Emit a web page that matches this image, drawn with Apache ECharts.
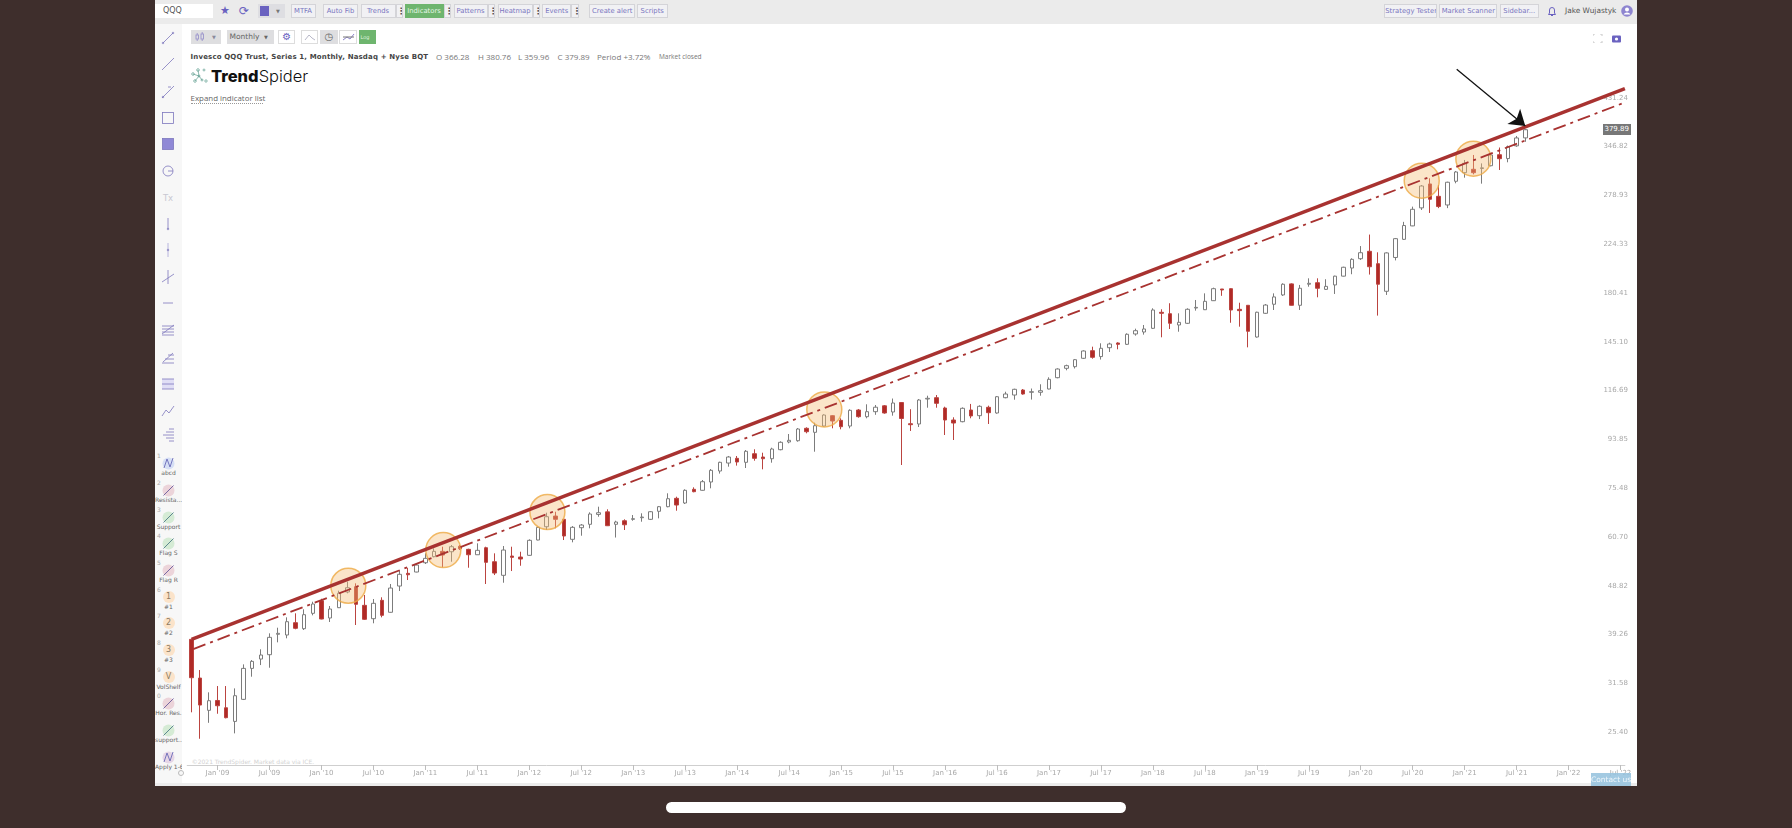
<!DOCTYPE html>
<html>
<head>
<meta charset="utf-8">
<title>QQQ monthly</title>
<script src="https://cdn.jsdelivr.net/npm/echarts@6/dist/echarts.min.js"></script>
<style>
  html, body { margin: 0; padding: 0; background: #3e2e2c; width: 1792px; height: 828px; overflow: hidden; }
  .a { position: absolute; box-sizing: border-box; white-space: nowrap; }
  .btn { border: 1px solid #d4d4d8; background: #f1f1f4; color: #7a76c0; font: 6.8px/12px "DejaVu Sans", sans-serif; text-align: center; overflow: hidden; }
  .dots { color: #555; font: bold 9px/12px "DejaVu Sans", sans-serif; }
  #chart { position: absolute; left: 0; top: 0; width: 1792px; height: 828px; filter: blur(0.35px); }
  #chrome { filter: blur(0.3px); }
</style>
</head>
<body>
<div id="chrome"></div>
<div id="chart"></div>
<div id="over"></div>
<script>
// monthly candles, Oct '08 -> Aug '21
const opens = [
  39.06, 32.86, 28.45, 29.73, 28.78, 27.08, 29.88, 34.31, 35.77, 36.47,
  39.95, 39.82, 42.07, 40.96, 43.87, 46.40, 42.96, 44.98, 48.25, 49.40,
  45.46, 42.83, 46.49, 44.07, 49.55, 52.44, 52.75, 54.98, 56.48, 57.85,
  57.75, 59.16, 58.37, 56.98, 58.79, 55.23, 51.98, 56.65, 56.40, 56.83,
  60.85, 64.57, 67.72, 66.74, 61.04, 64.29, 65.27, 68.22, 69.00, 65.27,
  66.32, 66.74, 67.22, 66.74, 69.17, 70.61, 73.30, 71.78, 76.31, 75.97,
  78.84, 82.80, 85.81, 87.63, 86.08, 89.45, 88.14, 87.47, 91.07, 94.25,
  94.79, 100.19, 98.41, 101.22, 106.00, 103.83, 101.22, 108.72, 105.52, 107.90,
  110.77, 107.76, 112.40, 102.27, 102.14, 114.19, 114.86, 109.69, 103.97, 103.19,
  108.72, 106.00, 110.04, 107.28, 114.86, 116.24, 118.87, 117.67, 117.67, 119.40,
  125.59, 130.96, 131.92, 136.95, 141.67, 138.00, 143.58, 146.63, 145.76, 152.65,
  154.00, 156.55, 168.16, 167.10, 158.90, 160.10, 171.40, 170.10, 177.10, 186.60,
  186.84, 170.40, 173.50, 150.60, 167.40, 174.30, 181.70, 190.90, 173.50, 190.60,
  191.90, 186.30, 190.00, 197.60, 204.90, 213.60, 220.80, 208.90, 184.70, 214.80,
  232.90, 247.30, 268.00, 298.20, 282.20, 271.50, 301.80, 313.60, 318.40, 319.50,
  323.50, 339.80, 334.00, 353.50, 366.28
];
const closes = [
  32.91, 29.13, 29.70, 29.04, 27.53, 30.37, 34.31, 35.40, 36.42, 39.41,
  40.12, 42.26, 41.03, 43.60, 45.73, 42.77, 44.72, 47.97, 49.18, 45.67,
  42.71, 45.87, 43.48, 49.11, 52.21, 52.11, 54.42, 56.07, 57.85, 56.91,
  59.06, 58.53, 56.98, 58.11, 55.08, 52.51, 58.19, 56.32, 55.90, 60.77,
  64.40, 67.52, 66.74, 61.95, 64.40, 65.06, 68.34, 68.74, 64.86, 65.94,
  65.14, 66.92, 67.43, 69.04, 70.61, 73.17, 71.14, 75.97, 75.50, 78.94,
  83.06, 86.08, 88.14, 86.20, 90.42, 87.63, 87.47, 91.35, 94.12, 94.96,
  99.88, 98.68, 101.36, 106.32, 103.51, 100.91, 108.57, 105.52, 107.90, 110.08,
  107.28, 112.17, 104.68, 101.82, 113.68, 114.55, 112.01, 103.97, 102.58, 109.55,
  105.87, 110.53, 107.42, 115.36, 116.77, 119.24, 116.77, 117.96, 118.50, 124.69,
  130.55, 132.51, 136.09, 141.48, 137.55, 143.20, 145.97, 145.76, 152.45, 154.90,
  156.08, 169.90, 167.40, 160.10, 160.80, 170.43, 171.90, 176.60, 186.84, 185.76,
  169.90, 169.40, 154.50, 168.20, 173.70, 180.10, 190.60, 173.50, 187.20, 191.40,
  187.20, 188.80, 197.60, 205.60, 213.00, 219.40, 206.10, 190.60, 219.20, 233.60,
  247.70, 266.30, 295.50, 278.50, 269.60, 300.50, 314.60, 327.00, 313.60, 320.50,
  339.40, 333.80, 352.30, 366.20, 379.89
];
const lows = [
  28.20, 25.06, 26.91, 28.02, 27.45, 25.67, 29.79, 33.06, 34.82, 34.41,
  38.54, 39.24, 40.85, 40.72, 43.48, 42.71, 42.20, 44.92, 47.97, 41.64,
  42.58, 41.96, 43.09, 43.99, 48.46, 50.90, 52.68, 54.67, 56.32, 53.87,
  55.23, 58.19, 53.77, 56.98, 50.00, 52.04, 50.29, 52.98, 54.25, 56.73,
  60.77, 63.63, 64.11, 60.85, 60.23, 62.03, 64.11, 67.52, 64.77, 61.53,
  63.63, 66.32, 66.03, 66.53, 67.03, 70.42, 69.35, 71.46, 75.30, 75.84,
  76.65, 81.85, 84.42, 84.82, 83.92, 86.70, 83.43, 85.93, 90.82, 93.71,
  94.38, 97.98, 90.25, 100.91, 100.19, 99.74, 100.19, 105.05, 104.77, 106.41,
  106.95, 106.00, 85.05, 99.00, 100.77, 109.84, 109.84, 97.24, 95.09, 102.92,
  104.77, 104.40, 102.14, 106.95, 114.55, 113.83, 116.43, 113.90, 115.88, 119.24,
  125.25, 129.80, 130.85, 136.52, 136.70, 136.20, 140.85, 142.55, 145.36, 151.50,
  152.20, 156.08, 150.40, 156.08, 154.20, 159.60, 169.40, 169.90, 176.90, 181.00,
  160.50, 157.70, 143.80, 150.20, 167.00, 169.90, 180.90, 173.30, 169.90, 188.50,
  179.80, 185.80, 182.50, 197.30, 199.30, 212.40, 199.00, 165.70, 181.70, 212.00,
  232.20, 247.00, 265.50, 262.00, 267.70, 267.70, 299.10, 306.70, 311.30, 298.60,
  322.60, 317.40, 328.50, 352.00, 359.96
];
const highs = [
  39.06, 34.06, 30.83, 31.71, 31.71, 31.38, 34.93, 35.61, 37.36, 40.12,
  41.14, 43.09, 43.87, 44.66, 46.20, 46.82, 45.32, 48.53, 50.52, 50.15,
  47.61, 46.76, 47.12, 50.00, 53.05, 53.70, 54.84, 57.34, 58.63, 59.06,
  59.51, 59.51, 58.53, 59.96, 59.06, 57.34, 59.24, 59.06, 57.75, 61.04,
  64.57, 68.74, 69.04, 66.83, 64.77, 65.35, 68.86, 70.61, 69.79, 66.32,
  66.74, 68.03, 68.55, 69.26, 70.83, 74.96, 73.83, 76.31, 76.99, 79.54,
  83.54, 86.31, 88.54, 88.54, 90.94, 91.23, 89.85, 91.88, 94.54, 97.67,
  100.32, 100.64, 102.73, 106.65, 106.32, 104.77, 109.06, 109.21, 111.52, 111.17,
  111.17, 114.44, 112.62, 109.11, 114.19, 115.88, 116.24, 110.34, 105.24, 110.00,
  111.71, 111.02, 110.85, 115.72, 117.96, 119.56, 119.40, 119.66, 121.94, 125.81,
  130.96, 133.11, 136.52, 141.92, 144.23, 146.43, 146.82, 147.09, 153.11, 156.30,
  158.90, 171.20, 170.43, 175.10, 167.40, 171.20, 177.65, 183.00, 187.70, 186.60,
  187.20, 175.50, 173.70, 168.60, 174.50, 183.00, 191.40, 191.40, 190.00, 195.70,
  195.70, 194.90, 198.00, 206.10, 214.00, 226.00, 237.90, 219.80, 219.80, 234.30,
  251.80, 269.50, 296.80, 305.80, 296.80, 301.20, 316.00, 331.90, 339.40, 326.90,
  341.90, 350.90, 354.00, 369.40, 380.76
];

const priceTicks = [25.40, 31.58, 39.26, 48.82, 60.70, 75.48, 93.85, 116.69, 145.10, 180.41, 224.33, 278.93, 346.82, 431.24];

// trend lines and markers, x is the month number from Oct '08
const trendSolid = [[0, 39.06], [165.5, 456.2]];
const trendDash = [[0.2, 37.4], [165.25, 427.5]];
const touchCircles = [[18.1, 49.62], [29.07, 58.19], [41.09, 68.95], [73.06, 109.0], [142.04, 302.6], [148, 333.8]];
const arrowFrom = [146.08, 497.6];
const arrowTo = [154, 386.3];

const monthNames = ['Jan', 'Feb', 'Mar', 'Apr', 'May', 'Jun', 'Jul', 'Aug', 'Sep', 'Oct', 'Nov', 'Dec'];
const months = [];
for (let i = 0; i < 166; i++) {
  const m = (i + 9) % 12;
  const yr = 8 + Math.floor((i + 9) / 12);
  months.push(monthNames[m] + " '" + String(yr).padStart(2, '0'));
}

const isHalfYear = (i, name) => /^(Jan|Jul)/.test(name);

const chart = echarts.init(document.getElementById('chart'), null, { renderer: 'canvas' });
chart.setOption({
  animation: false,
  backgroundColor: 'transparent',
  grid: { left: 187.2, right: 167.1, top: 24, bottom: 63 },
  xAxis: [
    {
      type: 'category',
      data: months,
      axisLine: { lineStyle: { color: '#cfcfcf', width: 1 } },
      axisTick: { show: true, length: 5, interval: isHalfYear, alignWithLabel: true, lineStyle: { color: '#bdbdbd' } },
      axisLabel: { interval: isHalfYear, margin: 5, color: '#a8a8a8', fontFamily: 'DejaVu Sans', fontSize: 7 },
      splitLine: { show: false }
    },
    { type: 'value', show: false, min: -0.5, max: 165.5, splitLine: { show: false } }
  ],
  yAxis: {
    type: 'log',
    logBase: 10,
    min: 22.29,
    max: 609,
    position: 'right',
    axisLine: { show: false },
    axisTick: { show: false },
    splitLine: { show: false },
    axisLabel: {
      inside: true,
      margin: -3,
      verticalAlign: 'bottom',
      customValues: priceTicks,
      formatter: v => Number(v).toFixed(2),
      color: '#a8a8a8',
      fontFamily: 'DejaVu Sans',
      fontSize: 7
    }
  },
  series: [
    {
      name: 'QQQ',
      type: 'candlestick',
      barWidth: 4,
      data: opens.map((o, i) => [o, closes[i], lows[i], highs[i]]),
      itemStyle: { color: '#ffffff', color0: '#b02a26', borderColor: '#7c7c7c', borderColor0: '#bb4440', borderWidth: 1 }
    },
    {
      name: 'trend',
      type: 'line',
      xAxisIndex: 1,
      data: trendSolid,
      symbol: 'none',
      lineStyle: { color: '#a83230', width: 3.5 }
    },
    {
      name: 'trend2',
      type: 'line',
      xAxisIndex: 1,
      data: trendDash,
      symbol: 'none',
      lineStyle: { color: '#a83230', width: 1.8, type: [13, 5, 3, 5] }
    },
    {
      name: 'touches',
      type: 'scatter',
      xAxisIndex: 1,
      data: touchCircles,
      symbol: 'circle',
      symbolSize: 35,
      itemStyle: { color: 'rgba(246,190,120,0.5)', borderColor: '#eeaa45', borderWidth: 1.5 }
    },
    {
      name: 'arrow',
      type: 'line',
      xAxisIndex: 1,
      data: [],
      markLine: {
        silent: true,
        symbol: ['none', 'arrow'],
        symbolSize: 15,
        label: { show: false },
        lineStyle: { color: '#111', width: 1.3, type: 'solid' },
        data: [[{ coord: arrowFrom }, { coord: arrowTo }]]
      }
    }
  ]
});

// --- page furniture around the chart ---
function box(parent, x, y, w, h, css, text) {
  const d = document.createElement('div');
  d.className = 'a';
  d.style.cssText = `left:${x}px;top:${y}px;width:${w}px;height:${h}px;` + (css || '');
  if (text !== undefined) d.innerHTML = text;
  parent.appendChild(d);
  return d;
}
function btn(x, w, label, css) {
  const d = box(chrome, x, 4, w, 14, css || '', label);
  d.classList.add('btn');
  return d;
}
function dots(x, w) {
  btn(x, w, '⋮').classList.add('dots');
}
const chrome = document.getElementById('chrome');
const over = document.getElementById('over');
const PURPLE = '#6a62c0';

box(chrome, 155, 0, 1482, 786, 'background:#fff;');
box(chrome, 155, 0, 1482, 24, 'background:#ebebeb;');
box(chrome, 155, 24, 27, 762, 'background:#f7f7f7;');
box(chrome, 155, 783, 1482, 3, 'background:#ececec;');
box(chrome, 666, 802, 460, 11, 'background:#fff;border-radius:6px;');

// top bar
box(chrome, 155, 4, 58, 14, 'background:#fff;color:#555;font:8px/14px "DejaVu Sans";padding-left:8px;', 'QQQ');
box(chrome, 219, 5, 12, 12, `color:${PURPLE};font:11px/12px "DejaVu Sans";text-align:center;`, '★');
box(chrome, 238, 5, 12, 12, `color:${PURPLE};font:12px/12px "DejaVu Sans";text-align:center;`, '⟳');
box(chrome, 258, 4, 27, 14, 'background:#dedee2;');
box(chrome, 260, 6, 9, 9.5, `background:${PURPLE};`);
box(chrome, 273, 6, 10, 10, 'color:#777;font:5px/10px "DejaVu Sans";text-align:center;', '▼');
btn(290.5, 25, 'MTFA');
btn(323, 35, 'Auto Fib');
btn(360.5, 35, 'Trends');
dots(395.5, 7);
btn(404.5, 39, 'Indicators', 'background:#6eb56e;color:#e6f5e6;border-color:#6eb56e;');
dots(443.5, 7);
btn(453.5, 34, 'Patterns');
dots(487.5, 7.5);
btn(497.5, 35, 'Heatmap');
dots(532.5, 7.5);
btn(542.3, 29, 'Events');
dots(571.3, 7.5);
btn(589.3, 46, 'Create alert');
btn(637, 30.5, 'Scripts');
btn(1384.3, 52.5, 'Strategy Tester');
btn(1439.3, 58, 'Market Scanner');
btn(1500, 38.5, 'Sidebar...');
box(chrome, 1565, 4, 54, 14, 'color:#555;font:7.4px/13px "DejaVu Sans";', 'Jake Wujastyk');
chrome.insertAdjacentHTML('beforeend',
  `<svg class="a" style="left:1547px;top:6px" width="10" height="11" fill="none" stroke="${PURPLE}" stroke-width="1">
     <path d="M1.5 8.5H8.5L7.5 7V4A2.5 2.5 0 0 0 2.5 4V7ZM4 9.5H6"/></svg>
   <svg class="a" style="left:1621px;top:5px" width="12" height="12">
     <circle cx="6" cy="6" r="5.8" fill="#8e85d0"/><circle cx="6" cy="4.6" r="2" fill="#fff"/><path d="M2.6 9.4A3.6 3 0 0 1 9.4 9.4Z" fill="#fff"/></svg>`);

// chart header
box(chrome, 190.6, 30, 30, 14, 'background:#dedee0;');
box(chrome, 212, 30, 8, 14, 'color:#8a8a9c;font:5px/14px "DejaVu Sans";', '▼');
chrome.insertAdjacentHTML('beforeend',
  `<svg class="a" style="left:194px;top:32px" width="12" height="10" fill="none" stroke="#9a94cc" stroke-width=".9">
     <rect x="2" y="3" width="2.5" height="4"/><rect x="7" y="2" width="2.5" height="5"/><path d="M3.2 1V3M3.2 7V9M8.2 0V2M8.2 7V9"/></svg>`);
box(chrome, 226.5, 30, 47, 14, 'background:#dedee0;color:#666;font:7.5px/14px "DejaVu Sans";padding-left:3px;', 'Monthly <span style="font-size:5px;margin-left:2px">▼</span>');
box(chrome, 278, 30, 17.4, 14, `border:1px solid #ddd;color:${PURPLE};font:10px/12px "DejaVu Sans";text-align:center;`, '⚙');
box(chrome, 301, 30, 17.4, 14, 'border:1px solid #ddd;');
box(chrome, 320, 30, 17.5, 14, 'background:#dedee0;color:#666;font:10px/14px "DejaVu Sans";text-align:center;', '◷');
box(chrome, 339.4, 30, 17.4, 14, 'border:1px solid #ddd;');
box(chrome, 358.6, 30, 17.2, 14, 'background:#6eb56e;color:#dff2df;font:5px/14px "DejaVu Sans";text-align:left;padding-left:2px;', 'Log');
chrome.insertAdjacentHTML('beforeend',
  `<svg class="a" style="left:301px;top:30px" width="56" height="14" fill="none" stroke="#8a82cc" stroke-width="1">
     <polyline points="4,10 8,5 11,8 14,10" stroke="#b8b8c8"/>
     <polyline points="42,10 46,7 49,9 53,4"/><line x1="42" y1="7" x2="53" y2="7" stroke="#777"/></svg>`);

box(chrome, 190.6, 52, 240, 10, 'color:#444;font:bold 7px/10px "DejaVu Sans";letter-spacing:.15px;', 'Invesco QQQ Trust, Series 1, Monthly, Nasdaq + Nyse BQT');
const headStyle = 'color:#777;font:8px/10px "Open Sans";';
box(chrome, 436, 52, 40, 10, headStyle, 'O 366.28');
box(chrome, 478, 52, 40, 10, headStyle, 'H 380.76');
box(chrome, 518, 52, 40, 10, headStyle, 'L 359.96');
box(chrome, 557.6, 52, 40, 10, headStyle, 'C 379.89');
box(chrome, 597, 52, 60, 10, headStyle, 'Period +3.72%');
box(chrome, 659, 52, 44, 10, 'color:#777;font:6.5px/10px "Open Sans";', 'Market closed');
chrome.insertAdjacentHTML('beforeend',
  `<svg class="a" style="left:190px;top:68px" width="18" height="16" fill="none" stroke="#5f9e8f" stroke-width=".7">
     <circle cx="3" cy="6" r="1.3"/><circle cx="8" cy="2" r="1.3"/><circle cx="14" cy="2" r="1"/><circle cx="9" cy="8" r="1"/>
     <circle cx="5" cy="13" r="1.3"/><circle cx="12" cy="12" r="1"/><circle cx="16" cy="13" r="1.2"/>
     <path d="M3 6L9 8L5 13M8 2L9 8L12 12"/></svg>`);
box(chrome, 211, 66, 100, 20, 'color:#111;font:300 16.5px/20px Inter;', '<b style="font-weight:800">Trend</b>Spider');
box(chrome, 190.6, 93, 72, 11, 'color:#666;font:7.9px/10px "Open Sans";border-bottom:1px dotted #999;', 'Expand indicator list');

// fullscreen + camera
chrome.insertAdjacentHTML('beforeend',
  `<svg class="a" style="left:1593px;top:34px" width="28" height="9" fill="none">
     <path d="M0 2V0H2M7 0H9V2M9 7V9H7M2 9H0V7" stroke="#c8c8c8"/>
     <rect x="19" y="1.5" width="9" height="7" rx="1" fill="${PURPLE}"/><circle cx="23.5" cy="5" r="1.6" fill="#fff"/></svg>`);

// left tool column
const toolIcons = [
  [38, '<path d="M3 13L13 3" /><circle cx="3" cy="13" r=".8"/><circle cx="13" cy="3" r=".8"/>'],
  [64, '<path d="M2 14L14 2"/>'],
  [92, '<path d="M2 14L14 2M8 3h3"/><circle cx="3" cy="13" r=".8"/>'],
  [118, '<rect x="2.5" y="2.5" width="11" height="11"/>'],
  [144, '<rect x="2.5" y="2.5" width="11" height="11" fill="#8f88d6"/>'],
  [171, '<circle cx="8" cy="8" r="5"/><path d="M8 8h5"/>'],
  [224, '<path d="M8 2V13"/><circle cx="8" cy="13" r=".8"/>'],
  [250, '<path d="M8 1V15" stroke="#a8a4d8"/><circle cx="8" cy="8" r=".8"/>'],
  [277, '<path d="M8 1V15M2 13L14 5"/>'],
  [303, '<path d="M3 8H13"/>'],
  [330, '<path d="M2 4H14M2 7H14M2 10H14M2 13H14M2 12L14 3"/>'],
  [357, '<path d="M2 14H14M5 10H14M8 6H14M3 13L13 4"/>'],
  [384, '<rect x="2" y="3" width="12" height="10" fill="#e0def5" stroke="none"/><path d="M2 3H14M2 8H14M2 13H14"/>'],
  [411, '<path d="M2 13L6 7L9 10L14 3"/>'],
  [435, '<path d="M3 8H14M6 5H14M6 11H14M9 2H14M9 14H14"/>']
];
let toolSvg = '';
toolIcons.forEach(t => {
  toolSvg += `<svg class="a" style="left:160px;top:${t[0] - 8}px" width="16" height="16" fill="none" stroke="#7d77bd" stroke-width=".8">${t[1]}</svg>`;
});
chrome.insertAdjacentHTML('beforeend', toolSvg);
box(chrome, 160, 192, 16, 12, 'color:#c8c8d2;font:8.5px/12px "DejaVu Sans";text-align:center;', 'Tx');

const presets = [
  [463, '1', 'abcd', '#d6dff5', 'N', '#6a6ab8'],
  [490, '2', 'Resista...', '#ecd4da', '/', '#6a5a9c'],
  [517, '3', 'Support', '#d5ebd5', '/', '#4e7d86'],
  [543, '4', 'Flag S', '#d5ebd5', '/', '#4e7d86'],
  [570, '5', 'Flag R', '#ecd4da', '/', '#6a5a9c'],
  [597, '6', '#1', '#fbe3c9', '1'],
  [623, '7', '#2', '#fbe3c9', '2'],
  [650, '8', '#3', '#fbe3c9', '3'],
  [677, '9', 'VolShelf', '#fbe3c9', 'V'],
  [703, '0', 'Hor. Res.', '#ecd4da', '/', '#6a5a9c'],
  [730, '', 'support...', '#d5ebd5', '/', '#4e7d86'],
  [757, '', 'Apply 1-6', '#e6d6e6', 'N', '#6a6ab8']
];
presets.forEach(p => {
  if (p[1]) box(chrome, 157, p[0] - 11, 6, 8, 'color:#aaa;font:6px/8px "DejaVu Sans";', p[1]);
  if (p[5]) {
    const path = p[4] === 'N' ? 'M3 12L6 3L9 11L12 2' : 'M2.5 12.5L12.5 2.5';
    chrome.insertAdjacentHTML('beforeend',
      `<svg class="a" style="left:161px;top:${p[0] - 7.5}px" width="15" height="15" fill="none">
         <circle cx="7.5" cy="7.5" r="6" fill="${p[3]}"/><path d="${path}" stroke="${p[5]}" stroke-width=".9"/></svg>`);
  } else {
    box(chrome, 162.5, p[0] - 6, 12, 12, `background:${p[3]};border-radius:50%;color:#8a7a62;font:8px/12px "DejaVu Sans";text-align:center;`, p[4]);
  }
  box(chrome, 155, p[0] + 5.5, 27, 8, 'color:#666;font:6px/8px "DejaVu Sans";text-align:center;overflow:hidden;', p[2]);
});
box(chrome, 177.5, 770, 6, 6, 'border:1px solid #bbb;border-radius:50%;');
box(chrome, 191.7, 758, 110, 8, 'color:#d2d2d2;font:6px/8px "DejaVu Sans";', '©2021 TrendSpider. Market data via ICE.');

// last price tag and contact button sit on top of the chart
box(over, 1602.7, 124, 28, 11, 'background:#777;color:#fff;font:7px/11px "DejaVu Sans";text-align:center;', closes[closes.length - 1].toFixed(2));
box(over, 1591, 773.3, 39.7, 12.7, 'background:rgba(150,195,222,0.88);color:#eef6fb;font:7.5px/13px "DejaVu Sans";text-align:center;', 'Contact us');
</script>
</body>
</html>
